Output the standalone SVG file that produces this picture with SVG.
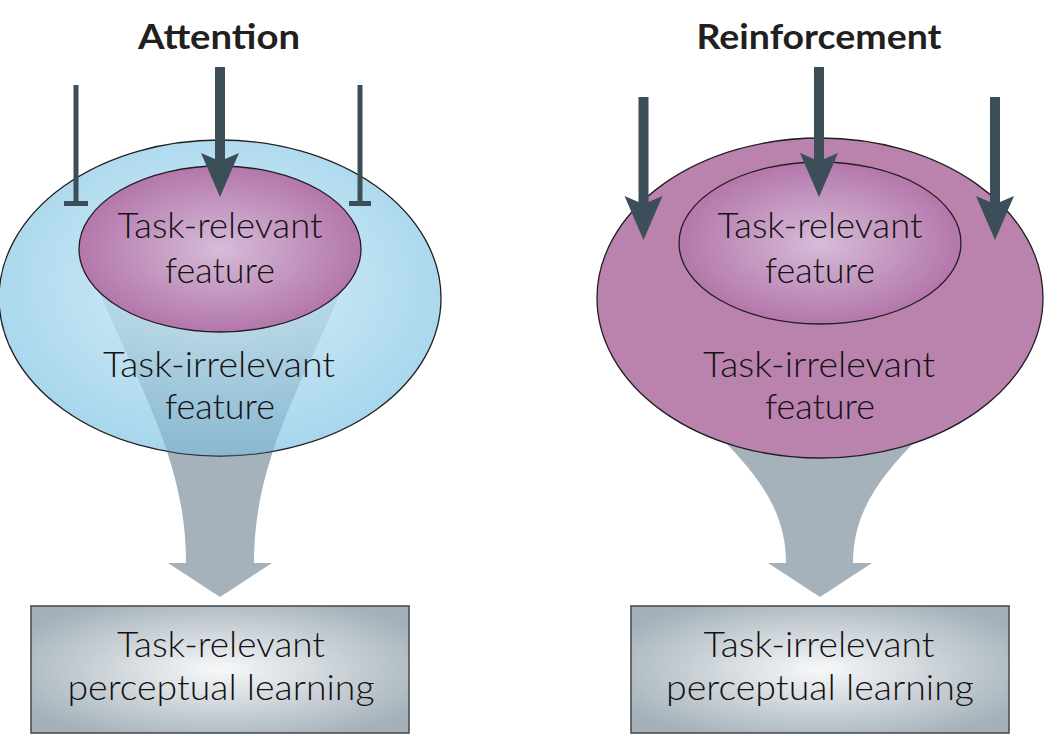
<svg xmlns="http://www.w3.org/2000/svg" width="1050" height="744" viewBox="0 0 1050 744">
<style>
.t{font-family:Lato,"Open Sans","Liberation Sans",sans-serif;font-size:35px;fill:#141112;text-anchor:middle;font-weight:300}
.h{font-family:Lato,"Open Sans","Liberation Sans",sans-serif;font-size:34px;fill:#231f20;text-anchor:middle;font-weight:700}
.dk{fill:#3c4e58}
.ol{stroke:#231f20;stroke-width:1.3}
.fun{fill:#a5b2bb}
.box{fill:url(#gBox);stroke:#4a4f53;stroke-width:1.6}
</style>
<defs>
<radialGradient id="gBlue" cx="0.5" cy="0.45" r="0.55">
<stop offset="0" stop-color="#dcf0fa"/>
<stop offset="1" stop-color="#a6d6ec"/>
</radialGradient>
<radialGradient id="gPink" cx="0.5" cy="0.5" r="0.55">
<stop offset="0" stop-color="#d6bcd9"/>
<stop offset="1" stop-color="#b070a6"/>
</radialGradient>
<radialGradient id="gBox" cx="0.5" cy="0.5" r="0.6">
<stop offset="0" stop-color="#f7f8f9"/>
<stop offset="1" stop-color="#a4b1ba"/>
</radialGradient>
<linearGradient id="gFun" x1="0" y1="270" x2="0" y2="460" gradientUnits="userSpaceOnUse">
<stop offset="0" stop-color="#8aa9bb" stop-opacity="0.15"/>
<stop offset="1" stop-color="#6f9fb8" stop-opacity="0.55"/>
</linearGradient>
<clipPath id="cL"><ellipse cx="220" cy="298" rx="221" ry="158"/></clipPath>
<path id="head" d="M0,0 L-19,-44 L-5,-38 L5,-38 L19,-44 Z"/>
<path id="funL" d="M92,275 C140,390 186,460 186,563 L168,563 L220,597 L272,563 L254,563 C254,460 300,390 348,275 Z"/>
</defs>

<g id="attention-panel">
<text class="h" x="219" y="49" textLength="162" lengthAdjust="spacingAndGlyphs">Attention</text>
</g>

<g id="attention-funnel">
<use href="#funL" class="fun"/>
</g>

<g id="task-irrelevant-feature-left">
<ellipse cx="220" cy="298" rx="221" ry="158" fill="url(#gBlue)" class="ol"/>
<use href="#funL" fill="url(#gFun)" clip-path="url(#cL)"/>
<text class="t" x="219" y="377" textLength="232" lengthAdjust="spacingAndGlyphs">Task-irrelevant</text>
<text class="t" x="220" y="419" textLength="110" lengthAdjust="spacingAndGlyphs">feature</text>
</g>

<g id="task-relevant-feature-left">
<ellipse cx="220" cy="249" rx="141" ry="83" fill="url(#gPink)" class="ol"/>
<text class="t" x="220" y="238" textLength="205" lengthAdjust="spacingAndGlyphs">Task-relevant</text>
<text class="t" x="220" y="283" textLength="110" lengthAdjust="spacingAndGlyphs">feature</text>
</g>

<g id="reinforcement-panel">
<text class="h" x="819" y="49" textLength="245" lengthAdjust="spacingAndGlyphs">Reinforcement</text>
</g>

<g id="reinforcement-funnel">
<path class="fun" d="M650,360 C712,440 786,478 786,563 L768,563 L820,597 L872,563 L853,563 C853,478 928,440 990,360 Z"/>
</g>

<g id="task-irrelevant-feature-right">
<ellipse cx="820" cy="298" rx="223" ry="160" fill="#b983ae" class="ol"/>
<text class="t" x="819" y="377" textLength="232" lengthAdjust="spacingAndGlyphs">Task-irrelevant</text>
<text class="t" x="820" y="419" textLength="110" lengthAdjust="spacingAndGlyphs">feature</text>
</g>

<g id="task-relevant-feature-right">
<ellipse cx="820" cy="243" rx="141" ry="81" fill="url(#gPink)" class="ol"/>
<text class="t" x="820" y="238" textLength="205" lengthAdjust="spacingAndGlyphs">Task-relevant</text>
<text class="t" x="820" y="283" textLength="110" lengthAdjust="spacingAndGlyphs">feature</text>
</g>

<g id="box-left">
<rect x="31" y="606" width="378" height="127" class="box"/>
<text class="t" x="221" y="657" textLength="208" lengthAdjust="spacingAndGlyphs">Task-relevant</text>
<text class="t" x="221" y="700" textLength="307" lengthAdjust="spacingAndGlyphs">perceptual learning</text>
</g>

<g id="box-right">
<rect x="631" y="606" width="378" height="127" class="box"/>
<text class="t" x="819" y="657" textLength="231" lengthAdjust="spacingAndGlyphs">Task-irrelevant</text>
<text class="t" x="820" y="700" textLength="308" lengthAdjust="spacingAndGlyphs">perceptual learning</text>
</g>

<g id="connectors">
<rect class="dk" x="215" y="67" width="10" height="95"/>
<use href="#head" class="dk" x="220" y="197"/>
<rect class="dk" x="73.5" y="85" width="5" height="120"/>
<rect class="dk" x="64" y="201" width="24" height="5"/>
<rect class="dk" x="357.5" y="85" width="5" height="120"/>
<rect class="dk" x="349" y="201" width="22" height="5"/>
<rect class="dk" x="814" y="67" width="10" height="95"/>
<use href="#head" class="dk" x="819" y="197"/>
<rect class="dk" x="638.5" y="97" width="10" height="108"/>
<use href="#head" class="dk" x="643.5" y="240"/>
<rect class="dk" x="990" y="97" width="10" height="108"/>
<use href="#head" class="dk" x="995" y="240"/>
</g>
</svg>
